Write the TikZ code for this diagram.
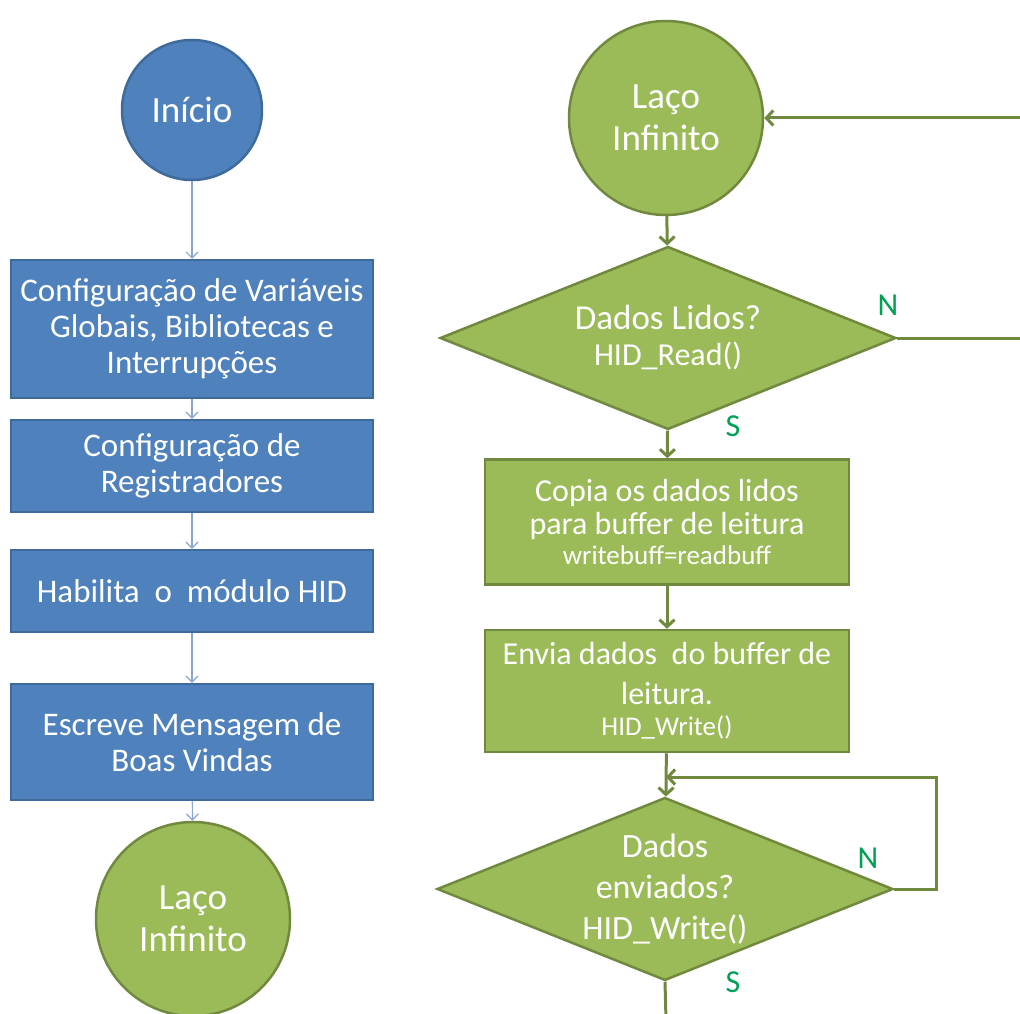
\documentclass[tikz,border=0pt]{standalone}
\usepackage{fontspec}
\setmainfont{Carlito}
\usepackage{tikz}
\usetikzlibrary{shapes.geometric,arrows.meta,positioning}
\definecolor{azul}{HTML}{4F81BD}
\definecolor{azulborda}{HTML}{3F6A9C}
\definecolor{verde}{HTML}{9BBB59}
\definecolor{verdeborda}{HTML}{71893F}
\definecolor{rotulo}{HTML}{00A055}
\definecolor{setaazul}{HTML}{8AA6CE}
\tikzset{>={Straight Barb[length=7pt,width=15pt]}}

\begin{document}
\begin{tikzpicture}[x=1pt, y=-1pt,
    caixaazul/.style={rectangle, draw=azulborda, line width=2.5pt, fill=azul, text=white,
        minimum width=362pt, align=center, inner sep=0pt, font=\fontsize{33}{36}\selectfont},
    caixaverde/.style={rectangle, draw=verdeborda, line width=2.5pt, fill=verde, text=white,
        minimum width=364pt, align=center, inner sep=0pt, font=\fontsize{32}{33}\selectfont},
    bola/.style={circle, line width=2.5pt, text=white, align=center, inner sep=0pt,
        font=\fontsize{37}{42}\selectfont},
    losango/.style={diamond, aspect=2.5, draw=verdeborda, line width=2.5pt, fill=verde, text=white,
        minimum width=456pt, minimum height=183pt, inner sep=0pt, align=center},
    setafina/.style={->, setaazul, line width=1.2pt, >={Straight Barb[length=6pt,width=12pt]}},
    seta/.style={->, verdeborda, line width=3pt},
    linha/.style={verdeborda, line width=3pt},
    rot/.style={text=rotulo, font=\fontsize{32}{34}\selectfont}]

    \useasboundingbox (0,0) rectangle (1020,1014);
    \clip (0,0) rectangle (1020,1014);

    % coluna da esquerda
    \node[bola, draw=azulborda, fill=azul, minimum size=140pt] (inicio) at (192,110) {Início};
    \node[caixaazul, minimum height=138pt] (cfg) at (192,329)
        {Configuração de Variáveis\\Globais, Bibliotecas e\\Interrupções};
    \node[caixaazul, minimum height=92pt] (reg) at (192,466) {Configuração de\\Registradores};
    \node[caixaazul, minimum height=82pt] (hid) at (192,591) {Habilita \ o \ módulo HID};
    \node[caixaazul, minimum height=116pt] (msg) at (192,742) {Escreve Mensagem de\\Boas Vindas};
    \node[bola, draw=verdeborda, fill=verde, minimum size=194pt] (lacoa) at (193,919) {Laço\\Infinito};

    \draw[setafina] (inicio) -- (cfg);
    \draw[setafina] (cfg) -- (reg);
    \draw[setafina] (reg) -- (hid);
    \draw[setafina] (hid) -- (msg);
    \draw[setafina] (msg) -- (lacoa);

    % coluna da direita
    \node[bola, draw=verdeborda, fill=verde, minimum size=194pt] (laco) at (666,118) {Laço\\Infinito};
    \node[losango, font=\fontsize{35}{36}\selectfont] (lidos) at (668,338)
        {Dados Lidos?\\{\fontsize{32}{36}\selectfont HID\_Read()}};
    \node[caixaverde, minimum height=125pt] (copia) at (667,522)
        {Copia os dados lidos\\para buffer de leitura\\[-3pt]{\fontsize{27}{30}\selectfont writebuff=readbuff}};
    \node[caixaverde, minimum height=122pt, font=\fontsize{32}{40}\selectfont] (envia) at (667,691)
        {Envia dados \ do buffer de\\leitura.\\[-9pt]{\fontsize{27}{30}\selectfont HID\_Write()}};
    \node[losango, font=\fontsize{34}{41}\selectfont] (env) at (665,889)
        {Dados\\enviados?\\HID\_Write()};

    \coordinate (borda1) at (1022,118);
    \coordinate (borda2) at (1022,338);
    \coordinate (junta) at (666,777);
    \coordinate (fim) at (666,1020);

    \node[rot] (n1) at (888,305) {N};
    \node[rot] (s1) at (733,426) {S};
    \node[rot] (n2) at (868,858) {N};
    \node[rot] (s2) at (733,982) {S};

    \draw[seta] (laco) -- (lidos);
    \draw[seta] (lidos) -- (copia);
    \draw[seta] (copia) -- (envia);
    \draw[seta] (envia) -- (env);
    \draw[linha] (lidos.east) -- (borda2);
    \draw[seta] (borda1) -- (laco.east);
    \draw[seta] (env.east) -- ++(42,0) |- (junta);
    \draw[linha] (env.south) -- (fim);
\end{tikzpicture}
\end{document}
